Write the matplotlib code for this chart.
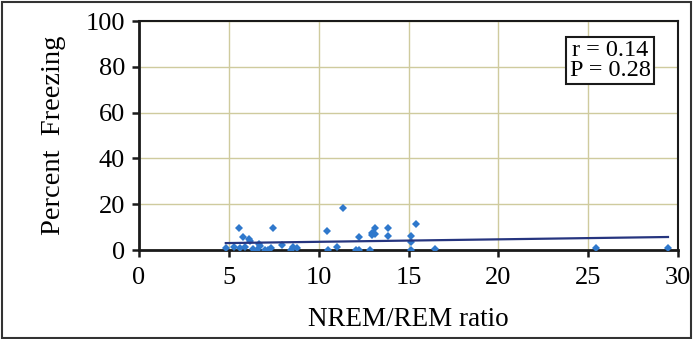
import numpy as np
import matplotlib.pyplot as plt
from matplotlib.patches import Rectangle

# values
nrem_rem = [4.83, 5.27, 5.54, 5.64, 5.77, 5.88, 6.14, 6.17, 6.37, 6.54, 6.67,
            6.74, 6.99, 7.18, 7.35, 7.47, 7.97, 8.46, 8.58, 8.78, 10.48, 10.54,
            11.03, 11.37, 12.08, 12.25, 12.26, 12.85, 12.95, 13.05, 12.95,
            13.13, 13.13, 13.87, 13.87, 15.12, 15.12, 15.12, 15.42, 16.5,
            25.44, 29.44]
freezing = [0.9, 1.3, 9.8, 0.9, 5.6, 1.3, 4.8, 3.8, 0.4, 0.1, 2.6,
            1.6, 0.0, 0.1, 0.9, 9.8, 2.3, 0.0, 1.3, 0.8, 8.5, 0.0,
            1.1, 18.2, 0.0, 0.0, 5.5, 0.0, 7.5, 7.5, 6.5,
            9.6, 6.9, 9.8, 6.2, 6.3, 3.3, 0.0, 11.5, 0.5,
            0.9, 0.9]

fit_intercept = 2.5
fit_slope = 0.108
r_value = 0.14
p_value = 0.28

plt.rcParams["font.family"] = ["Liberation Serif", "DejaVu Serif"]

fig = plt.figure(figsize=(6.93, 3.39), dpi=100)
ax = fig.add_axes([0.2006, 0.2625, 0.7778, 0.6755])

ax.set_xlim(0, 30)
ax.set_ylim(0, 100)
ax.set_xticks(range(0, 31, 5))
ax.set_yticks(range(0, 101, 20))

ax.grid(True, color="#cfcb9e", lw=1.0)
ax.set_axisbelow(True)

ax.plot(nrem_rem, freezing, "D", color="#2f78cc", markersize=4.3,
        markeredgewidth=0, zorder=3)

xs = np.array([min(nrem_rem), max(nrem_rem)])
ax.plot(xs, fit_intercept + fit_slope * xs, color="#26357f", lw=1.6, zorder=4)

for side in ["left", "bottom"]:
    ax.spines[side].set_linewidth(2.0)
for side in ["top", "right"]:
    ax.spines[side].set_linewidth(1.5)
for s in ax.spines.values():
    s.set_color("#1a1a1a")

ax.tick_params(axis="both", direction="out", length=5, width=1.8,
               labelsize=19, color="#1a1a1a", pad=5)
ax.tick_params(axis="x", pad=7)

ax.set_xlabel("NREM/REM ratio", fontsize=19.5, labelpad=13)
ax.set_ylabel("Percent  Freezing", fontsize=20.5, labelpad=14)

ax.text(0.874, 0.828, f"r = {r_value:.2f}\nP = {p_value:.2f}",
        transform=ax.transAxes, ha="center", va="center", fontsize=17.5,
        linespacing=0.9,
        bbox=dict(boxstyle="square,pad=0.15", facecolor="white",
                  edgecolor="#1a1a1a", lw=1.5))

fig.patches.append(Rectangle((0.003, 0.004), 0.994, 0.99,
                             transform=fig.transFigure, fill=False,
                             edgecolor="#333333", lw=1.5))

fig.savefig("out.png", dpi=100)
